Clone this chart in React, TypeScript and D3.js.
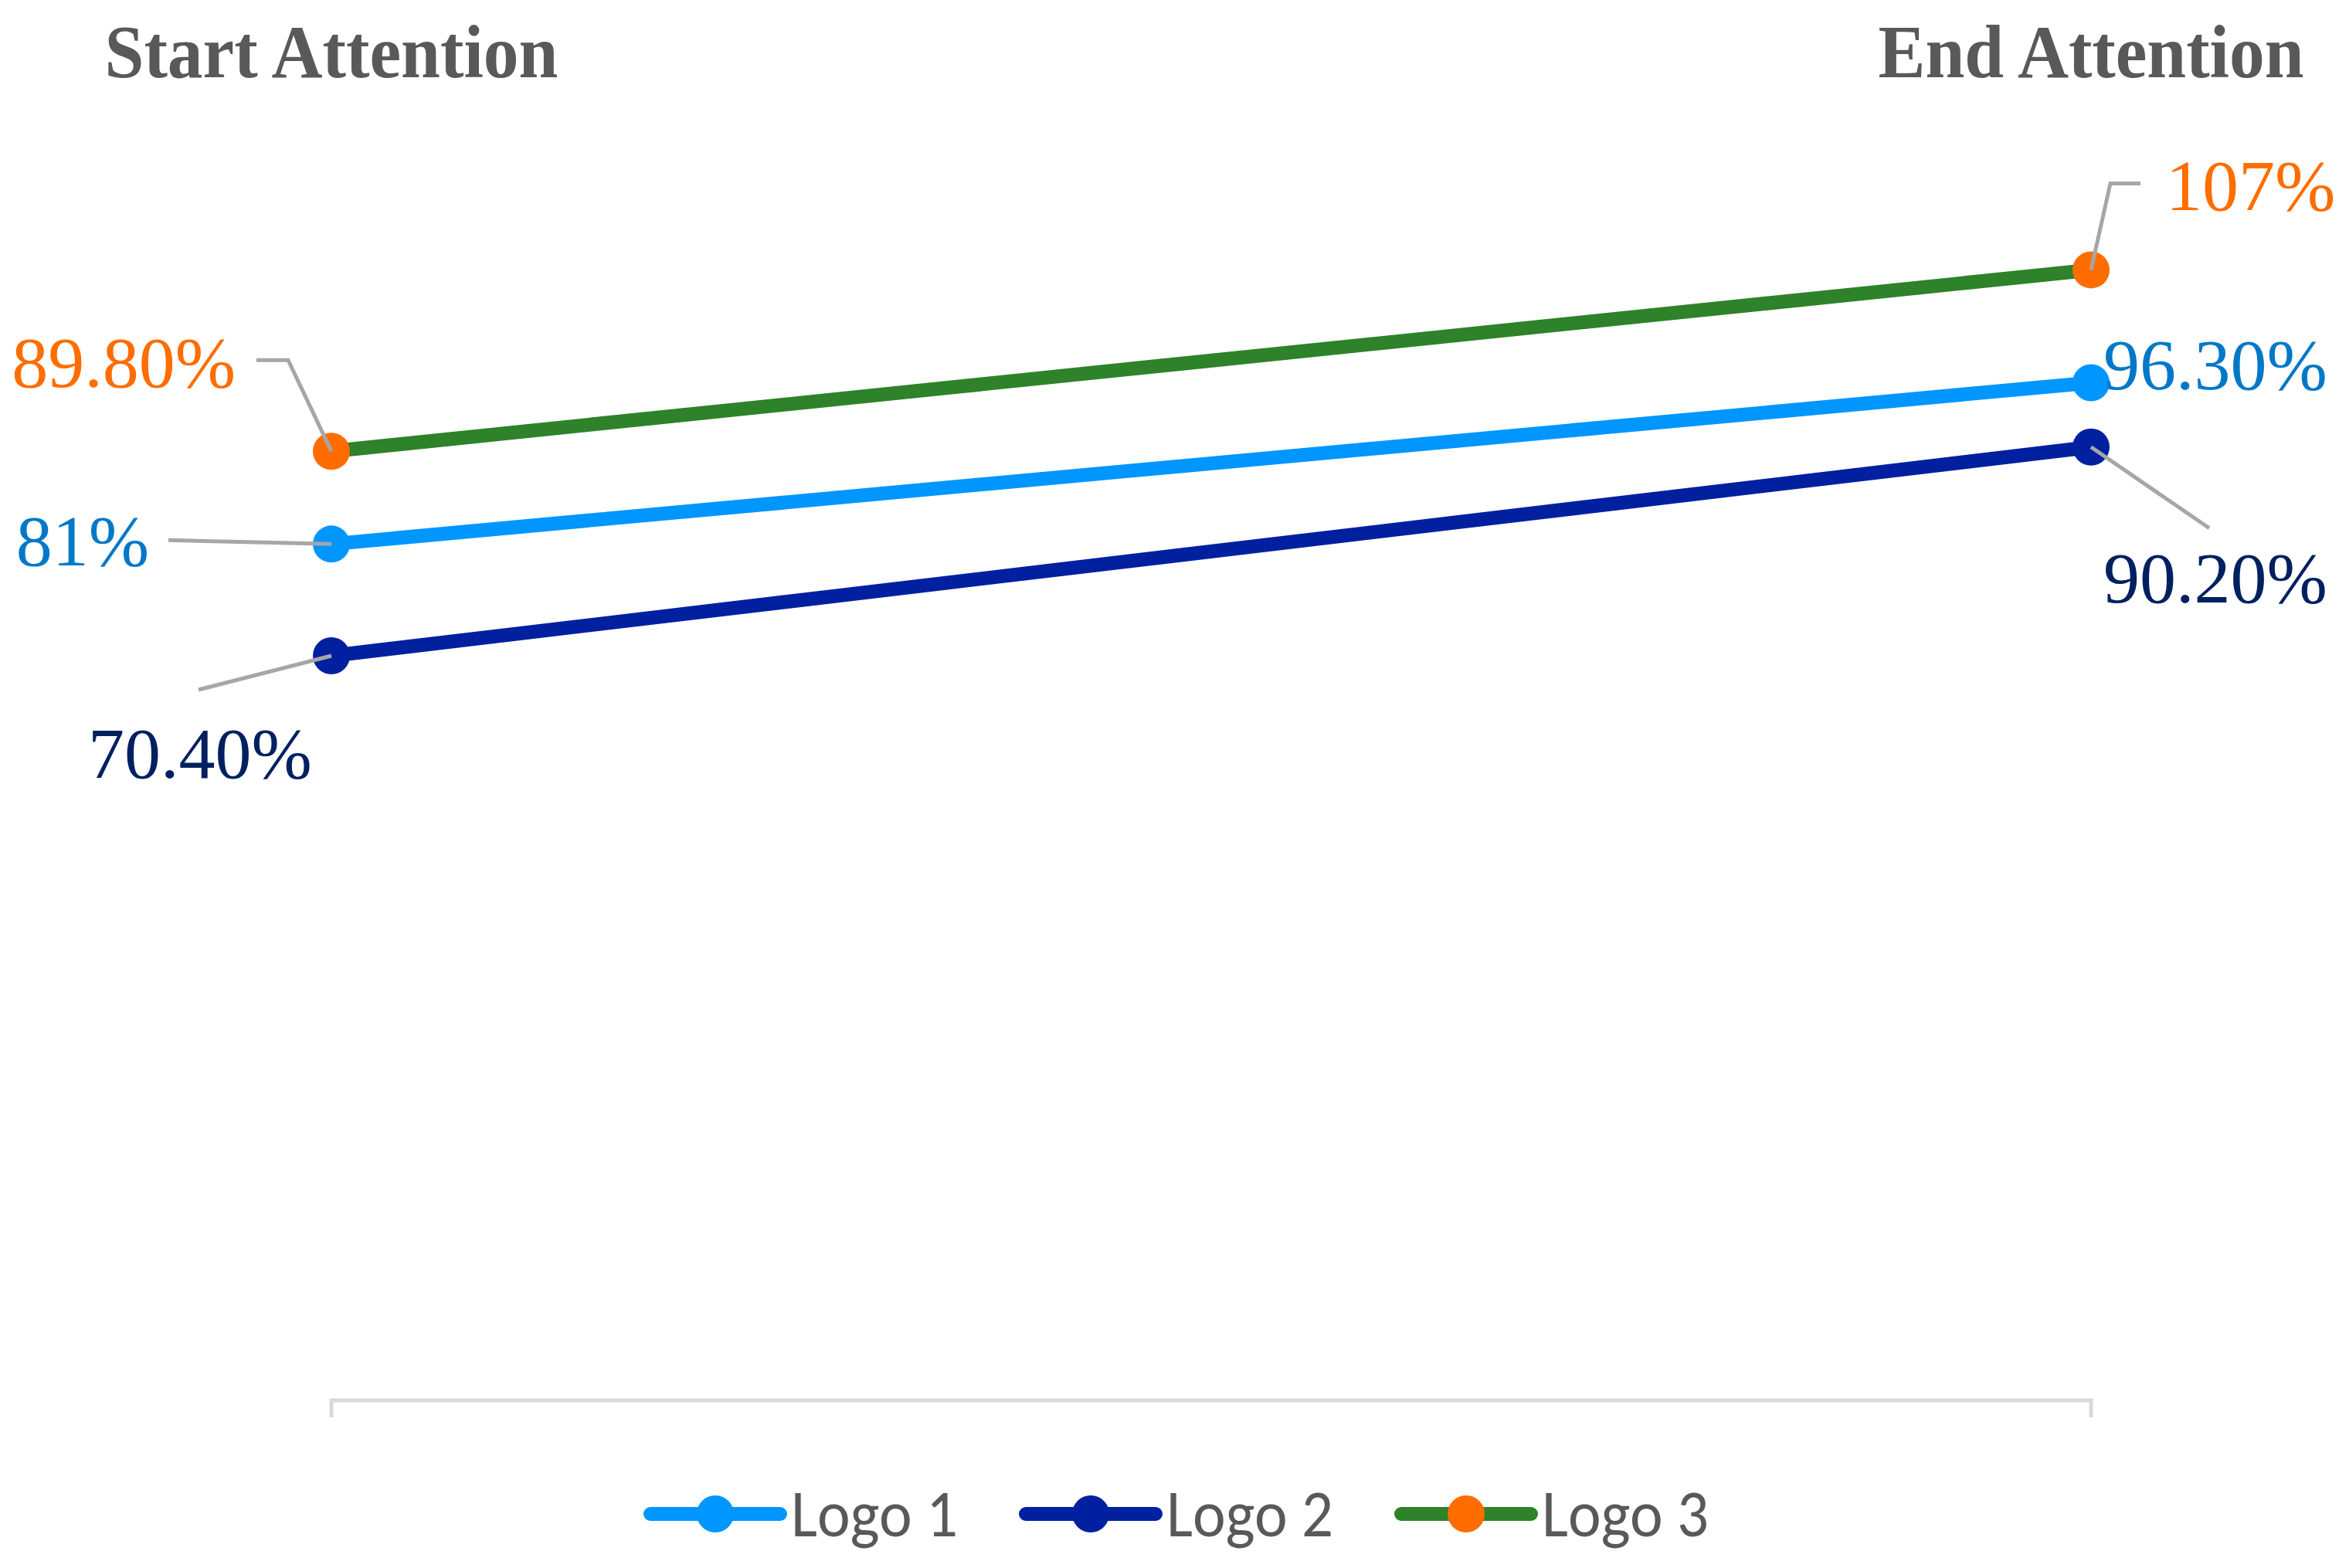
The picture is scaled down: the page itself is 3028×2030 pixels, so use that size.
import React from "react";
import * as d3 from "d3";

// categories on the x axis
const stages = ["Start Attention", "End Attention"];

// one series per logo, values in percent
const seriesNames = ["Logo 1", "Logo 2", "Logo 3"];
const logo1Values = [81, 96.3];
const logo2Values = [70.4, 90.2];
const logo3Values = [89.8, 107];

// data label text as printed on the chart
const logo1Labels = ["81%", "96.30%"];
const logo2Labels = ["70.40%", "90.20%"];
const logo3Labels = ["89.80%", "107%"];

const W = 3028;
const H = 2030;

const layout = {
	xStart: 429,
	xEnd: 2707,
	yZero: 1810,
	yTop: 172,
};

const lineColors = ["#0096ff", "#0020a0", "#2e8229"];
const markerColors = ["#0096ff", "#0020a0", "#ff6d00"];
const labelColors = ["#0078c8", "#002060", "#ff6d00"];

// label placement relative to each point: offsets, anchor, leader path
const labelPlacement: any[][] = [
	[
		{ dx: -236, dy: 28, anchor: "end", leader: [[-211, -5], [0, 0]] },
		{ dx: 16, dy: 8, anchor: "start", leader: null },
	],
	[
		{ dx: -170, dy: 158, anchor: "middle", leader: [[-172, 44], [0, 0]] },
		{ dx: 16, dy: 201, anchor: "start", leader: [[0, 0], [153, 105]] },
	],
	[
		{ dx: -124, dy: -83, anchor: "end", leader: [[-97, -118], [-56, -118], [0, 0]] },
		{ dx: 97, dy: -77, anchor: "start", leader: [[64, -112], [25, -112], [0, 0]] },
	],
];

export default function App() {
	const xScale = d3.scalePoint<string>()
		.domain(stages)
		.range([layout.xStart, layout.xEnd]);

	const yScale = d3.scaleLinear()
		.domain([0, 120])
		.range([layout.yZero, layout.yTop]);

	const allValues = [logo1Values, logo2Values, logo3Values];
	const allLabels = [logo1Labels, logo2Labels, logo3Labels];

	const line = d3.line<number>()
		.x((d, i) => xScale(stages[i]) as number)
		.y(d => yScale(d));

	const leaderLine = d3.line<number[]>()
		.x(d => d[0])
		.y(d => d[1]);

	const axisY = 1813;

	// legend
	const legendX0 = 842;
	const legendStep = 486;
	const legendY = 1960;

	const leaders = allValues.map((vals, si) => vals.map((v, i) => {
		let p = labelPlacement[si][i];
		if (!p.leader) return null;
		let px = xScale(stages[i]) as number;
		let py = yScale(v);
		return (
			<path key={`lead${si}${i}`}
				d={leaderLine(p.leader.map((q: number[]) => [px + q[0], py + q[1]])) as string}
				fill="none"
				stroke="#a6a6a6"
				strokeWidth={5} />
		);
	}));

	return (
		<svg width={W} height={H} style={{ position: "absolute", left: 0, top: 0, background: "#fff" }}>
			{/* category headers at top */}
			{stages.map((s, i) => (
				<text key={s}
					x={xScale(s)}
					y={100}
					textAnchor="middle"
					fontFamily="'Liberation Serif', 'Times New Roman', serif"
					fontWeight="bold"
					fontSize={98}
					textLength={i === 0 ? 587 : 551}
					lengthAdjust="spacingAndGlyphs"
					fill="#595959">{s}</text>
			))}

			{/* horizontal axis with end ticks */}
			<path
				d={`M${layout.xStart},${axisY + 22}V${axisY}H${layout.xEnd}V${axisY + 22}`}
				fill="none"
				stroke="#d9d9d9"
				strokeWidth={5} />

			{/* lines */}
			{allValues.map((vals, si) => (
				<path key={`line${si}`}
					d={line(vals) as string}
					fill="none"
					stroke={lineColors[si]}
					strokeWidth={18}
					strokeLinecap="round" />
			))}

			{/* markers */}
			{allValues.map((vals, si) => vals.map((v, i) => (
				<circle key={`pt${si}${i}`}
					cx={xScale(stages[i])}
					cy={yScale(v)}
					r={24}
					fill={markerColors[si]} />
			)))}

			{/* leader lines */}
			{leaders}

			{/* data labels */}
			{allValues.map((vals, si) => vals.map((v, i) => {
				let p = labelPlacement[si][i];
				let px = xScale(stages[i]) as number;
				let py = yScale(v);
				return (
					<text key={`lab${si}${i}`}
						x={px + p.dx}
						y={py + p.dy}
						textAnchor={p.anchor}
						fontFamily="'Liberation Serif', 'Times New Roman', serif"
						fontSize={94}
						fill={labelColors[si]}>{allLabels[si][i]}</text>
				);
			}))}

			{/* legend */}
			{seriesNames.map((name, si) => {
				let lx = legendX0 + si * legendStep;
				return (
					<g key={name} transform={`translate(${lx}, ${legendY})`}>
						<line x1={0} x2={168} y1={0} y2={0}
							stroke={lineColors[si]}
							strokeWidth={18}
							strokeLinecap="round" />
						<circle cx={84} cy={0} r={24} fill={markerColors[si]} />
						<text x={182} y={29}
							fontFamily="Carlito, Calibri, 'Liberation Sans Narrow', 'DejaVu Sans Condensed', 'Noto Sans', sans-serif"
							fontSize={86}
							textLength={216}
							lengthAdjust="spacingAndGlyphs"
							fill="#595959">{name}</text>
					</g>
				);
			})}
		</svg>
	);
}
